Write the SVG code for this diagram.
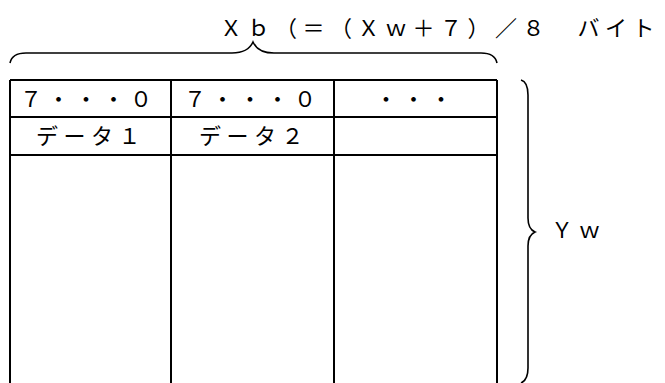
<svg xmlns="http://www.w3.org/2000/svg" width="665" height="383" viewBox="0 0 665 383">
<style>
text{font-family:"Noto Sans CJK JP","Noto Sans",sans-serif;font-size:22px;fill:#000;letter-spacing:5.5px}
.grid{stroke:#000;stroke-width:2;fill:none}
.brace{stroke:#000;stroke-width:1.6;fill:none}
</style>
<rect width="665" height="383" fill="#fff"/>
<g id="title"><text x="220" y="36">Ｘｂ（＝（Ｘｗ＋７）／８　バイト</text></g>
<g id="brace-top"><path class="brace" d="M10,63 Q12,53 26,53 L232,53 Q248,53 253,42 Q258,53 274,53 L481,53 Q495,53 497,63"/></g>
<g id="table">
<path class="grid" d="M10,80 H497 M10,117 H497 M10,155 H497 M10,80 V383 M171,80 V383 M334,80 V383 M497,80 V383"/>
</g>
<g id="cell-1-1"><text x="20" y="106.5">７・・・０</text></g>
<g id="cell-1-2"><text x="184" y="106.5">７・・・０</text></g>
<g id="cell-1-3"><text x="375" y="106.5">・・・</text></g>
<g id="cell-2-1"><text x="36" y="144">データ１</text></g>
<g id="cell-2-2"><text x="199" y="144">データ２</text></g>
<g id="brace-right"><path class="brace" d="M521,80 Q528,82 528,95 L528,218 Q528,229 535,232 Q528,235 528,246 L528,368 Q528,380 521,383"/></g>
<g id="label-yw"><text x="551" y="238">Ｙｗ</text></g>
</svg>
